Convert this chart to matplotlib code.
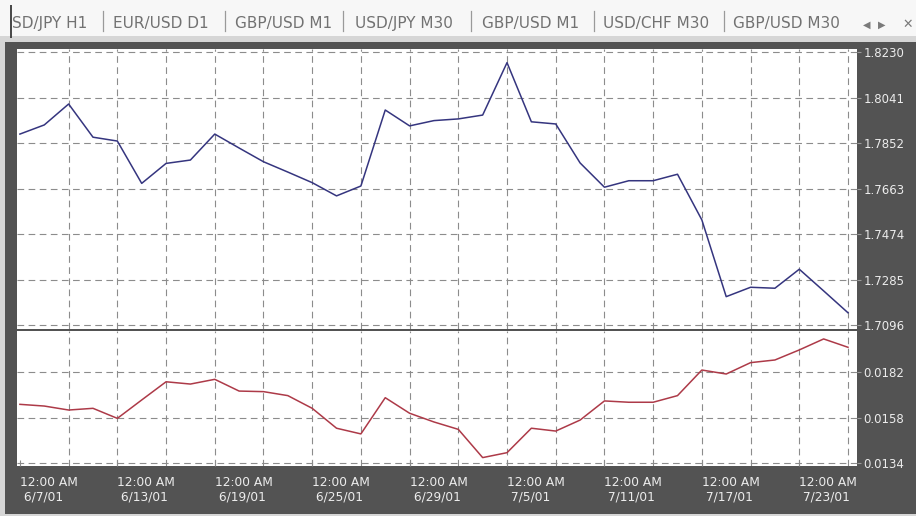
import matplotlib
matplotlib.use('Agg')
import matplotlib.pyplot as plt
from matplotlib.patches import Rectangle
from matplotlib.lines import Line2D

W, H = 916, 516

# ---------------- data ----------------
price = [1.7890, 1.7928, 1.8015, 1.7877, 1.7861, 1.7685, 1.7768, 1.7782, 1.7890,
         1.7832, 1.7775, 1.7732, 1.7688, 1.7633, 1.7674, 1.7990, 1.7924, 1.7946,
         1.7953, 1.7969, 1.8187, 1.7941, 1.7932, 1.7770, 1.7669, 1.7696, 1.7696,
         1.7723, 1.7533, 1.7214, 1.7253, 1.7249, 1.7328, 1.7238, 1.7147]
indicator = [0.01651, 0.01642, 0.01621, 0.01630, 0.01577, 0.01674, 0.01770, 0.01758,
             0.01783, 0.01721, 0.01718, 0.01697, 0.01630, 0.01525, 0.01495, 0.01686,
             0.01604, 0.01558, 0.01519, 0.01370, 0.01396, 0.01525, 0.01510, 0.01568,
             0.01669, 0.01662, 0.01662, 0.01697, 0.01832, 0.01811, 0.01871, 0.01885,
             0.01938, 0.01996, 0.01952]
date_labels = ['6/7/01', '6/13/01', '6/19/01', '6/25/01', '6/29/01',
               '7/5/01', '7/11/01', '7/17/01', '7/23/01']
label_bars = [0, 4, 8, 12, 16, 20, 24, 28, 32]
time_label = '12:00 AM'
price_ticks = [1.8230, 1.8041, 1.7852, 1.7663, 1.7474, 1.7285, 1.7096]
ind_ticks = [0.0182, 0.0158, 0.0134]
tabs = ['SD/JPY H1', 'EUR/USD D1', 'GBP/USD M1', 'USD/JPY M30',
        'GBP/USD M1', 'USD/CHF M30', 'GBP/USD M30']
tab_x = [12, 113, 235, 355, 482, 603, 733]
sep_x = [103, 225, 343, 471, 594, 724]

# ---------------- styles ----------------
DARK = '#535353'
GRID = '#8c8c8c'
LABEL = '#ececec'
BLUE = '#35357f'
RED = '#ad3a48'
plt.rcParams['font.family'] = ['DejaVu Sans']

fig = plt.figure(figsize=(W / 100, H / 100), dpi=100)
fig.patch.set_facecolor('#f7f7f7')


def px_rect(x0, y0, x1, y1, color):
    fig.patches.append(Rectangle((x0 / W, 1 - y1 / H), (x1 - x0) / W, (y1 - y0) / H,
                                 transform=fig.transFigure, facecolor=color,
                                 edgecolor='none', zorder=-2))


px_rect(0, 36, W, H, '#d6d6d6')
px_rect(5, 42, W, 514, DARK)
px_rect(10, 5, 12, 38, '#4a4a4a')

ax1 = fig.add_axes([17 / W, 1 - 329 / H, 840 / W, 280 / H])
ax2 = fig.add_axes([17 / W, 1 - 466 / H, 840 / W, 135 / H])

n = len(price)
xs = list(range(n))
dash = (0, (6, 4))

for ax in (ax1, ax2):
    ax.set_facecolor('white')
    for s in ax.spines.values():
        s.set_visible(False)
    ax.set_xlim(-0.12, 34.37)
    for i in range(2, n, 2):
        ax.axvline(i, color=GRID, lw=0.8, ls=dash, zorder=1)
    ax.yaxis.tick_right()
    ax.tick_params(axis='y', length=3, width=0.8, color='#9a9a9a',
                   labelcolor=LABEL, labelsize=8.5, pad=1.5)

for v in price_ticks:
    ax1.axhline(v, color=GRID, lw=0.8, ls=dash, zorder=1)
for v in ind_ticks:
    ax2.axhline(v, color=GRID, lw=0.8, ls=dash, zorder=1)

ax1.plot(xs, price, color=BLUE, lw=1.1, zorder=3)
ax2.plot(xs, indicator, color=RED, lw=1.1, zorder=3)

ax1.set_ylim(1.70795, 1.82437)
ax2.set_ylim(0.013257, 0.020379)

ax1.set_yticks(price_ticks)
ax1.set_yticklabels([f'{v:.4f}' for v in price_ticks])
ax2.set_yticks(ind_ticks)
ax2.set_yticklabels([f'{v:.4f}' for v in ind_ticks])

ax1.set_xticks([])
ax2.set_xticks(label_bars)
ax2.set_xticklabels([f'{time_label}\n {d}' for d in date_labels])
ax2.tick_params(axis='x', direction='in', length=4, width=0.8, color=GRID,
                labelcolor=LABEL, labelsize=8.8, pad=7)
for lbl in ax2.get_xticklabels():
    lbl.set_horizontalalignment('left')
    lbl.set_multialignment('left')

# ---------------- tab strip ----------------
base_y = 1 - 28 / H
for t, x in zip(tabs, tab_x):
    fig.text(x / W, base_y, t, fontsize=11.0, color='#727272', va='baseline', ha='left')
for x in sep_x:
    fig.lines.append(Line2D([x / W, x / W], [1 - 11 / H, 1 - 31 / H],
                            transform=fig.transFigure, color='#9a9a9a', lw=0.9))
fig.text(863 / W, base_y, '\u25C0', fontsize=7, color='#7a7a7a', va='baseline', ha='left')
fig.text(878 / W, base_y, '\u25B6', fontsize=7, color='#7a7a7a', va='baseline', ha='left')
fig.text(902 / W, base_y, '\u2715', fontsize=9, color='#7a7a7a', va='baseline', ha='left')

fig.savefig('out.png', dpi=100, facecolor=fig.get_facecolor())
